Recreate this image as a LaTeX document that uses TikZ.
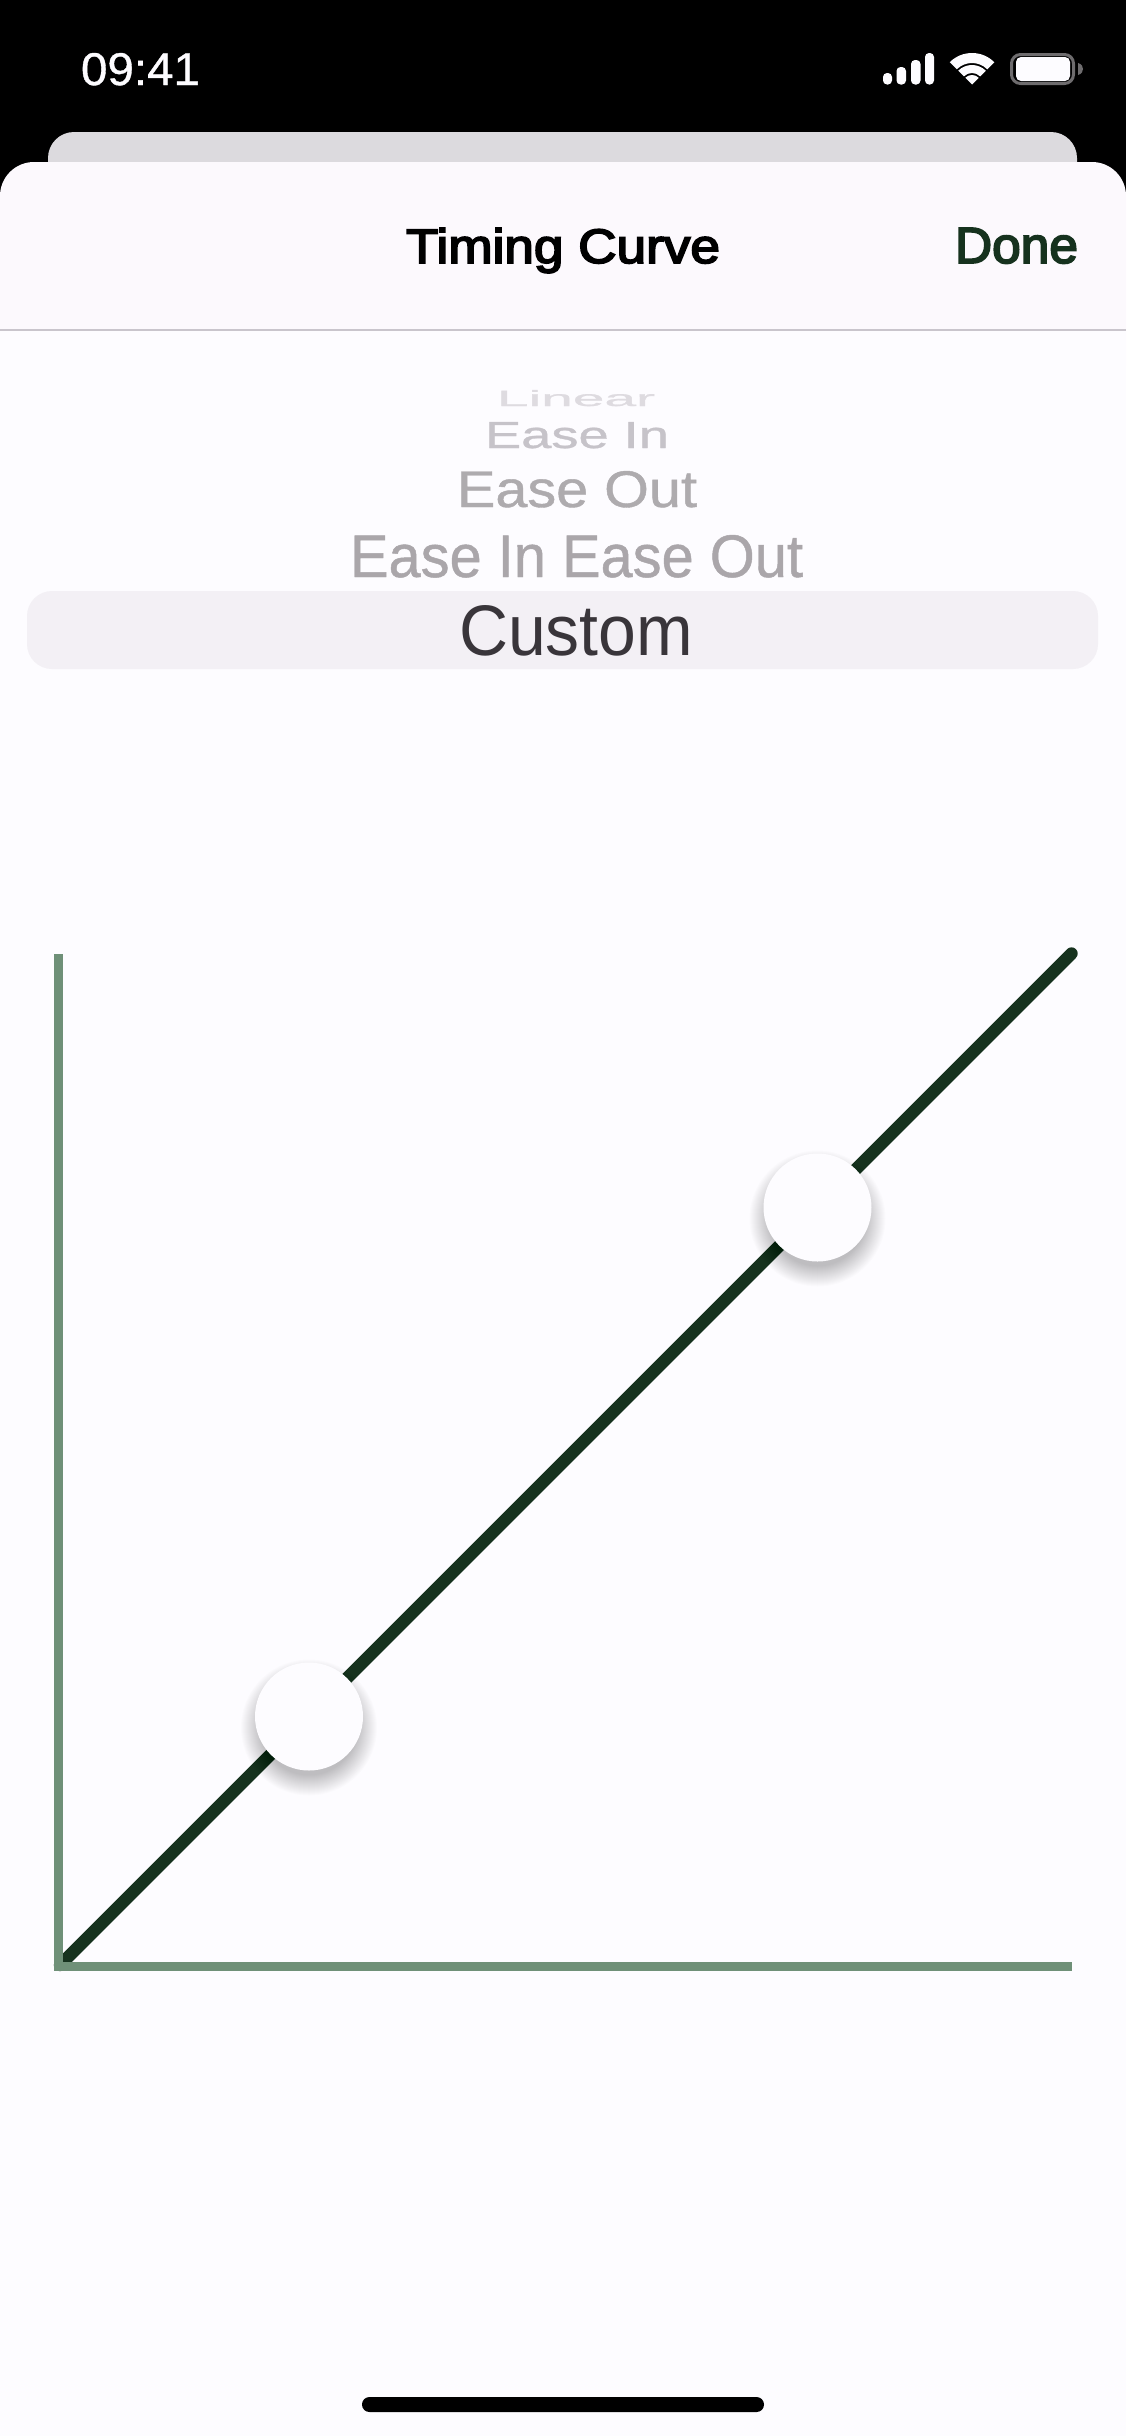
\documentclass[tikz,border=0pt]{standalone}
\usepackage{fontspec}
\usepackage{graphicx}
\setmainfont{Liberation Sans}
\newfontfamily\semifont[FakeBold=3.5]{Liberation Sans}
\newfontfamily\medfont[FakeBold=0.8]{Liberation Sans}
\definecolor{pagebg}{HTML}{FDFCFF}
\definecolor{sheetbg}{HTML}{FCF9FD}
\definecolor{backsheet}{HTML}{DCDADE}
\definecolor{rulecol}{HTML}{C9C5CC}
\definecolor{pickbar}{HTML}{F3F0F5}
\definecolor{darkgreen}{HTML}{16321E}
\definecolor{axisgreen}{HTML}{6F9078}
\definecolor{batgray}{HTML}{6E6C6E}
\newdimen\pxu \pxu=0.5pt
\newcommand{\fitted}[3]{\resizebox{#1\pxu}{#2\pxu}{#3}}
\tikzset{
  txt/.style={inner sep=0pt,outer sep=0pt,anchor=base west},
  axisline/.style={draw=axisgreen,line width=4.5pt},
  curveline/.style={draw=darkgreen,line width=6.2pt,line cap=round},
  handle/.style={circle,fill=pagebg,inner sep=0pt,minimum size=54pt},
  shadowlayer/.style={fill=black,fill opacity=0.013},
  icon/.style={fill=pagebg}
}
\begin{document}
\begin{tikzpicture}[x=0.5pt,y=-0.5pt]
\useasboundingbox (0,0) rectangle (1126,2436);
% backgrounds
\fill[black] (0,0) rectangle (1126,300);
\fill[backsheet,rounded corners=13pt] (48,132) rectangle (1077,260);
\fill[sheetbg,rounded corners=17pt] (0,162) rectangle (1126,400);
\fill[sheetbg] (0,240) rectangle (1126,330);
\fill[pagebg] (0,330) rectangle (1126,2436);
\draw[rulecol,line width=0.75pt] (0,330) -- (1126,330);
% status bar
\node[txt,text=pagebg] (clock) at (81,85) {\fitted{119}{32}{\medfont 09:41}};
\fill[icon,rounded corners=2pt] (883,73) rectangle (892,84.5);
\fill[icon,rounded corners=2pt] (896.5,67) rectangle (906,84.5);
\fill[icon,rounded corners=2pt] (911,60) rectangle (920.5,84.5);
\fill[icon,rounded corners=2pt] (925,53) rectangle (934,84.5);
\begin{scope}[shift={(972,84.5)},x=0.5pt,y=0.5pt]
  \fill[icon] (0,0) -- (135:9.5) arc[start angle=135,end angle=45,radius=9.5] -- cycle;
  \fill[icon] (135:11.5) -- (135:19.5) arc[start angle=135,end angle=45,radius=19.5] -- (45:11.5) arc[start angle=45,end angle=135,radius=11.5] -- cycle;
  \fill[icon] (135:21.5) -- (135:31.5) arc[start angle=135,end angle=45,radius=31.5] -- (45:21.5) arc[start angle=45,end angle=135,radius=21.5] -- cycle;
\end{scope}
\draw[batgray,line width=1.5pt,rounded corners=4.5pt] (1011.5,54.5) rectangle (1073.5,83.5);
\fill[icon,rounded corners=2.5pt] (1016,57) rectangle (1070,81);
\fill[batgray] (1078,63) .. controls (1082,64) and (1083,67) .. (1083,69) .. controls (1083,71) and (1082,74) .. (1078,75) -- cycle;
% nav bar
\node[txt,text=black] (title) at (406,263) {\fitted{314}{35}{\semifont Timing Curve}};
\node[txt,text=darkgreen] (done) at (955,263) {\fitted{123}{35}{\semifont Done}};
% picker
\fill[pickbar,rounded corners=12.5pt] (27,591) rectangle (1098,669);
\node[txt] (linear) at (497,406) {\fitted{158}{16}{\color[HTML]{DEDBE0}\medfont Linear}};
\node[txt] (easein) at (485,448) {\fitted{184}{26}{\color[HTML]{C6C3C9}\medfont Ease In}};
\node[txt] (easeout) at (457,507) {\fitted{240}{36}{\color[HTML]{AEABAE}\medfont Ease Out}};
\node[txt] (easeboth) at (350,577) {\fitted{453}{42}{\color[HTML]{AAA6AA}\medfont Ease In Ease Out}};
\node[txt] (custom) at (459,655) {\fitted{234}{50}{\color[HTML]{39353A}Custom}};
% curve
\coordinate (origin) at (60,1965);
\coordinate (far) at (1071.5,953.5);
\draw[curveline] (origin) -- (far);
\coordinate (yend) at (58.5,954);
\coordinate (xend) at (1072,1966.5);
\draw[axisline] (yend) -- (58.5,1966.5) -- (xend);
% handles
\foreach \r in {48,49,...,68}{\fill[shadowlayer] (817.5,1218.5) circle (\r);}
\foreach \r in {48,49,...,68}{\fill[shadowlayer] (309,1727.5) circle (\r);}
\node[handle] (h1) at (817.5,1207.5) {};
\node[handle] (h2) at (309,1716.5) {};
% home indicator
\fill[black,rounded corners=3.7pt] (362,2397) rectangle (764,2412);
\end{tikzpicture}
\end{document}
